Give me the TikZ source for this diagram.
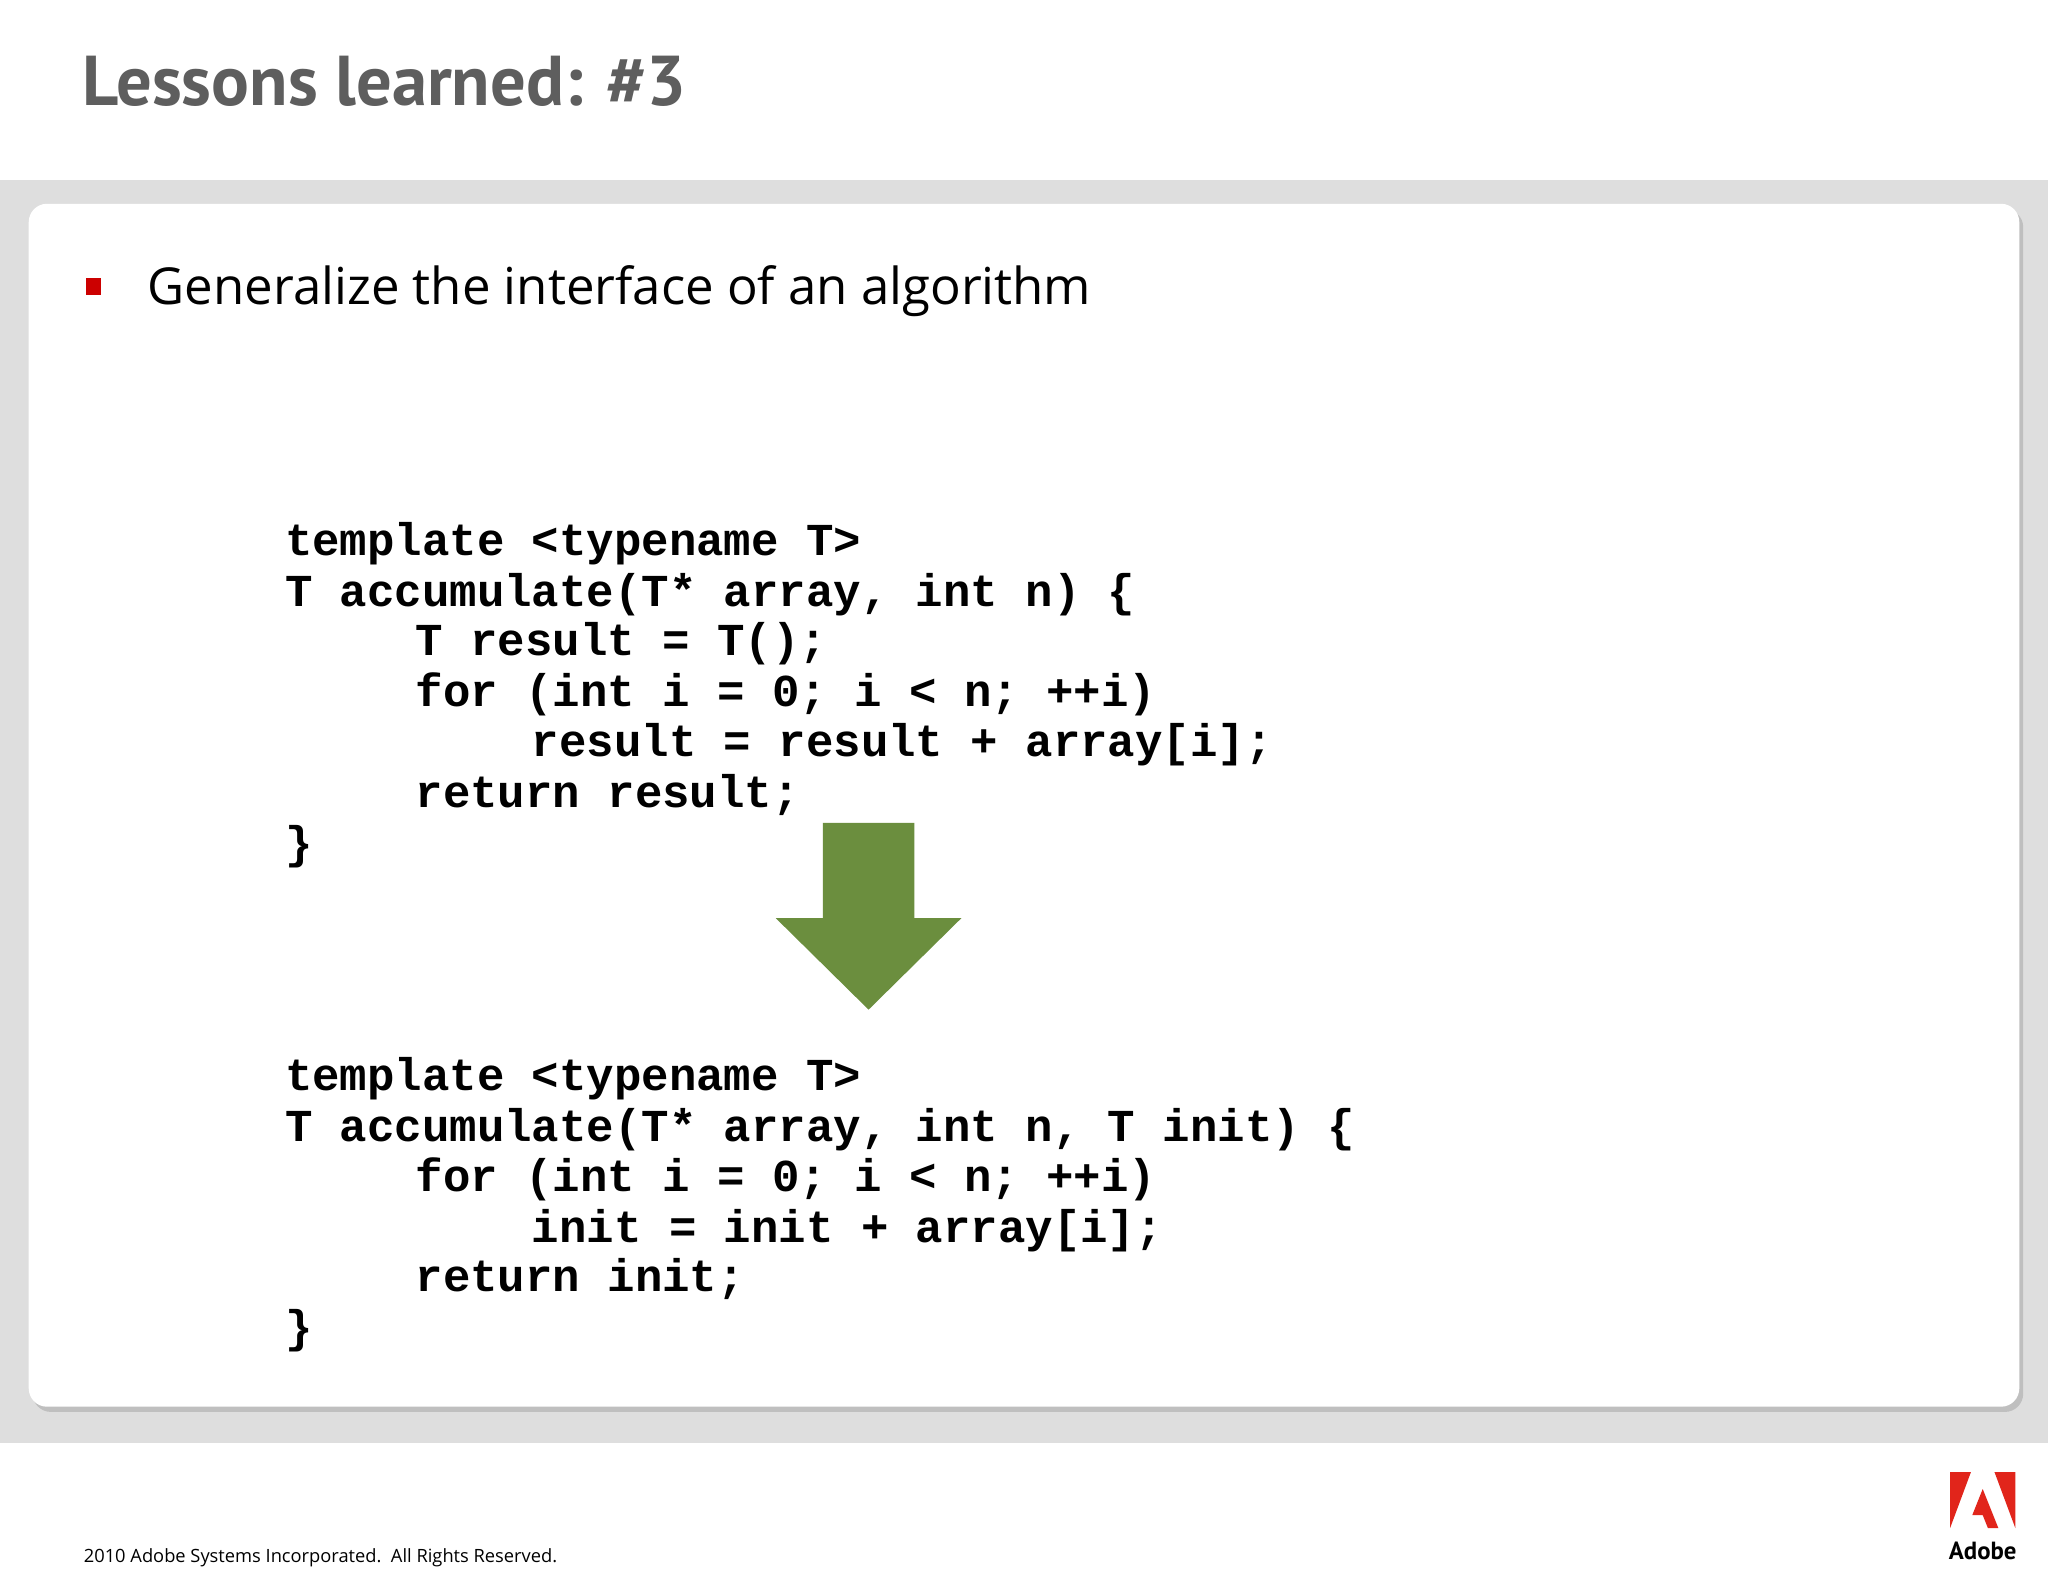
\documentclass[tikz,border=0pt]{standalone}
\usepackage{fontspec}
\setmainfont{Open Sans}
\newfontfamily\titlefont{PT Sans}
\newfontfamily\codefont{Liberation Mono}
\definecolor{band}{HTML}{DEDEDE}
\definecolor{titlegray}{HTML}{5E5E5E}
\definecolor{arrowgreen}{HTML}{6B8E3E}
\definecolor{adobered}{HTML}{E1251B}
\tikzset{code/.style={anchor=base west,inner sep=0pt,font=\codefont\bfseries\fontsize{35}{38}\selectfont}}
\begin{document}
\begin{tikzpicture}[x=1pt,y=-1pt]
\useasboundingbox (0,0) rectangle (1568,1211);
\fill[white] (0,0) rectangle (1568,1211);
\fill[band] (0,138) rectangle (1568,1105);
\fill[black!25,rounded corners=14] (25,160) rectangle (1549,1081);
\fill[white,rounded corners=14] (22,156) rectangle (1546,1077);
\node[anchor=base west,inner sep=0pt,text=titlegray,font=\titlefont\bfseries\fontsize{54}{60}\selectfont] (title) at (63,81) {Lessons learned: \#3};
\fill[red!80!black] (66,213) rectangle (77,226);
\node[anchor=base west,inner sep=0pt,font=\fontsize{39}{48}\selectfont] (bullet) at (113,233) {Generalize the interface of an algorithm};
% first block
\node[code] (a1) at (218,425) {template <typename T>};
\node[code] (a2) at (218,464) {T accumulate(T* array, int n) \{};
\node[code] (a3) at (318,502) {T result = T();};
\node[code] (a4) at (318,541) {for (int i = 0; i < n; ++i)};
\node[code] (a5) at (407,579) {result = result + array[i];};
\node[code] (a6) at (318,618) {return result;};
\node[code] (a7) at (218,657) {\}};
% arrow
\fill[arrowgreen] (630,630) -- (700,630) -- (700,703) -- (736,703) -- (665,773) -- (594,703) -- (630,703) -- cycle;
% second block
\node[code] (b1) at (218,835) {template <typename T>};
\node[code] (b2) at (218,874) {T accumulate(T* array, int n, T init) \{};
\node[code] (b3) at (318,912) {for (int i = 0; i < n; ++i)};
\node[code] (b4) at (407,951) {init = init + array[i];};
\node[code] (b5) at (318,989) {return init;};
\node[code] (b6) at (218,1028) {\}};
% footer
\node[anchor=base west,inner sep=0pt,font=\fontsize{14}{16}\selectfont] (foot) at (64,1196) {2010 Adobe Systems Incorporated.\ \ All Rights Reserved.};
\fill[adobered] (1493,1127) -- (1509,1127) -- (1493,1170) -- cycle;
\fill[adobered] (1527,1127) -- (1543,1127) -- (1543,1170) -- cycle;
\fill[adobered] (1518,1140) -- (1530,1170) -- (1522,1170) -- (1518,1160) -- (1510,1160) -- cycle;
\node[anchor=base,inner sep=0pt,font=\titlefont\bfseries\fontsize{19}{22}\selectfont] (logo) at (1518,1194) {Adobe};
\end{tikzpicture}
\end{document}
